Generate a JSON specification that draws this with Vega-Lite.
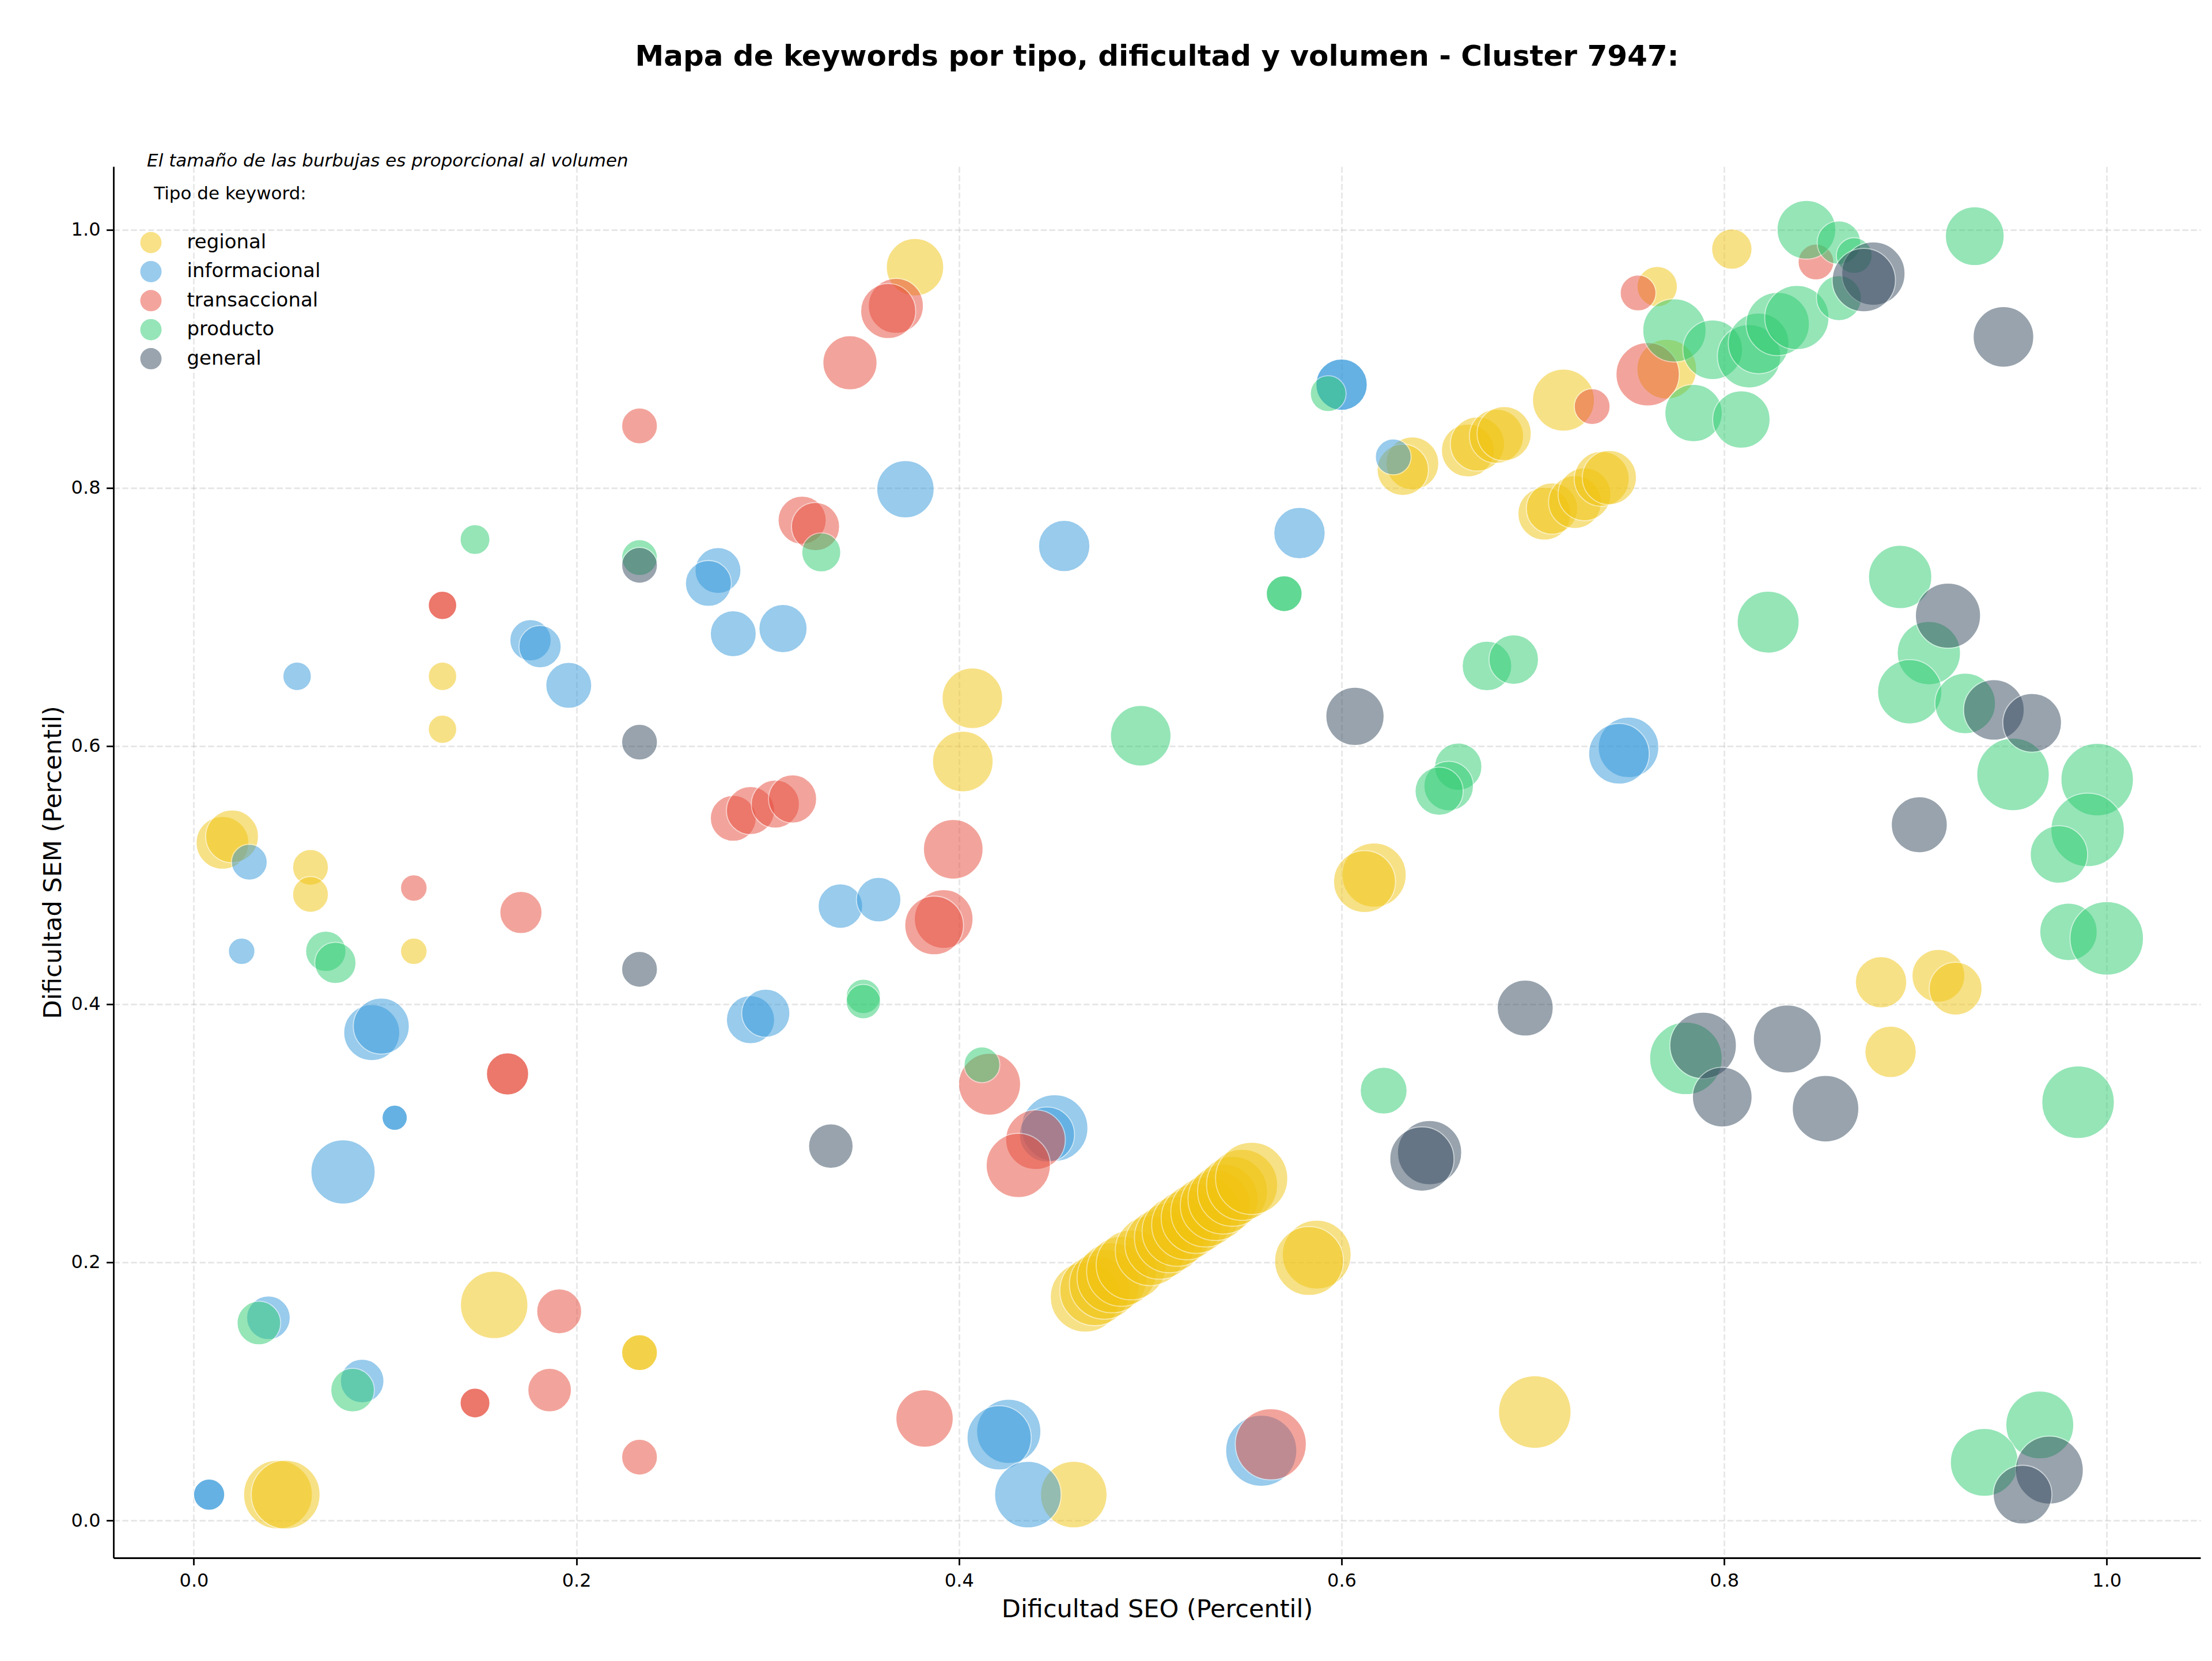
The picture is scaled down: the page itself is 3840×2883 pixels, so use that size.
{
  "$schema": "https://vega.github.io/schema/vega-lite/v6.json",
  "autosize": {"type": "none"},
  "padding": {"left": 197, "top": 289, "right": 20, "bottom": 179},
  "width": 3623,
  "height": 2415,
  "title": {
    "text": "Mapa de keywords por tipo, dificultad y volumen - Cluster 7947:",
    "fontSize": 50,
    "fontWeight": "bold",
    "font": "DejaVu Sans",
    "color": "black",
    "anchor": "middle",
    "offset": 140
  },
  "layer": [
    {
      "data": {
        "values": [
          {"tipo": "regional", "seo": 0.015, "sem": 0.525, "volumen": 513},
          {"tipo": "regional", "seo": 0.020, "sem": 0.530, "volumen": 513},
          {"tipo": "regional", "seo": 0.061, "sem": 0.506, "volumen": 236},
          {"tipo": "regional", "seo": 0.061, "sem": 0.485, "volumen": 236},
          {"tipo": "regional", "seo": 0.115, "sem": 0.441, "volumen": 130},
          {"tipo": "regional", "seo": 0.130, "sem": 0.654, "volumen": 149},
          {"tipo": "regional", "seo": 0.130, "sem": 0.613, "volumen": 149},
          {"tipo": "regional", "seo": 0.044, "sem": 0.020, "volumen": 872},
          {"tipo": "regional", "seo": 0.048, "sem": 0.020, "volumen": 872},
          {"tipo": "regional", "seo": 0.157, "sem": 0.167, "volumen": 838},
          {"tipo": "regional", "seo": 0.233, "sem": 0.130, "volumen": 236},
          {"tipo": "regional", "seo": 0.233, "sem": 0.130, "volumen": 236},
          {"tipo": "regional", "seo": 0.377, "sem": 0.971, "volumen": 606},
          {"tipo": "regional", "seo": 0.407, "sem": 0.637, "volumen": 676},
          {"tipo": "regional", "seo": 0.402, "sem": 0.588, "volumen": 676},
          {"tipo": "regional", "seo": 0.460, "sem": 0.020, "volumen": 815},
          {"tipo": "regional", "seo": 0.617, "sem": 0.500, "volumen": 760},
          {"tipo": "regional", "seo": 0.612, "sem": 0.495, "volumen": 707},
          {"tipo": "regional", "seo": 0.587, "sem": 0.206, "volumen": 872},
          {"tipo": "regional", "seo": 0.583, "sem": 0.201, "volumen": 872},
          {"tipo": "regional", "seo": 0.466, "sem": 0.173, "volumen": 900},
          {"tipo": "regional", "seo": 0.471, "sem": 0.178, "volumen": 900},
          {"tipo": "regional", "seo": 0.476, "sem": 0.183, "volumen": 900},
          {"tipo": "regional", "seo": 0.480, "sem": 0.188, "volumen": 900},
          {"tipo": "regional", "seo": 0.485, "sem": 0.193, "volumen": 900},
          {"tipo": "regional", "seo": 0.490, "sem": 0.198, "volumen": 900},
          {"tipo": "regional", "seo": 0.500, "sem": 0.209, "volumen": 900},
          {"tipo": "regional", "seo": 0.505, "sem": 0.214, "volumen": 900},
          {"tipo": "regional", "seo": 0.510, "sem": 0.219, "volumen": 900},
          {"tipo": "regional", "seo": 0.514, "sem": 0.224, "volumen": 900},
          {"tipo": "regional", "seo": 0.519, "sem": 0.229, "volumen": 900},
          {"tipo": "regional", "seo": 0.524, "sem": 0.234, "volumen": 900},
          {"tipo": "regional", "seo": 0.529, "sem": 0.239, "volumen": 900},
          {"tipo": "regional", "seo": 0.534, "sem": 0.244, "volumen": 900},
          {"tipo": "regional", "seo": 0.538, "sem": 0.249, "volumen": 900},
          {"tipo": "regional", "seo": 0.543, "sem": 0.255, "volumen": 900},
          {"tipo": "regional", "seo": 0.548, "sem": 0.260, "volumen": 930},
          {"tipo": "regional", "seo": 0.553, "sem": 0.265, "volumen": 960},
          {"tipo": "regional", "seo": 0.637, "sem": 0.819, "volumen": 513},
          {"tipo": "regional", "seo": 0.632, "sem": 0.814, "volumen": 486},
          {"tipo": "regional", "seo": 0.666, "sem": 0.829, "volumen": 513},
          {"tipo": "regional", "seo": 0.671, "sem": 0.834, "volumen": 540},
          {"tipo": "regional", "seo": 0.681, "sem": 0.840, "volumen": 540},
          {"tipo": "regional", "seo": 0.685, "sem": 0.842, "volumen": 540},
          {"tipo": "regional", "seo": 0.716, "sem": 0.868, "volumen": 707},
          {"tipo": "regional", "seo": 0.706, "sem": 0.780, "volumen": 513},
          {"tipo": "regional", "seo": 0.710, "sem": 0.784, "volumen": 486},
          {"tipo": "regional", "seo": 0.722, "sem": 0.789, "volumen": 513},
          {"tipo": "regional", "seo": 0.727, "sem": 0.795, "volumen": 513},
          {"tipo": "regional", "seo": 0.736, "sem": 0.807, "volumen": 558},
          {"tipo": "regional", "seo": 0.740, "sem": 0.808, "volumen": 540},
          {"tipo": "regional", "seo": 0.765, "sem": 0.956, "volumen": 300},
          {"tipo": "regional", "seo": 0.804, "sem": 0.985, "volumen": 300},
          {"tipo": "regional", "seo": 0.770, "sem": 0.892, "volumen": 655},
          {"tipo": "regional", "seo": 0.882, "sem": 0.417, "volumen": 486},
          {"tipo": "regional", "seo": 0.912, "sem": 0.422, "volumen": 513},
          {"tipo": "regional", "seo": 0.921, "sem": 0.412, "volumen": 513},
          {"tipo": "regional", "seo": 0.887, "sem": 0.363, "volumen": 486},
          {"tipo": "regional", "seo": 0.701, "sem": 0.084, "volumen": 968},

          {"tipo": "informacional", "seo": 0.008, "sem": 0.020, "volumen": 179},
          {"tipo": "informacional", "seo": 0.008, "sem": 0.020, "volumen": 179},
          {"tipo": "informacional", "seo": 0.029, "sem": 0.510, "volumen": 236},
          {"tipo": "informacional", "seo": 0.025, "sem": 0.441, "volumen": 130},
          {"tipo": "informacional", "seo": 0.054, "sem": 0.654, "volumen": 149},
          {"tipo": "informacional", "seo": 0.093, "sem": 0.378, "volumen": 577},
          {"tipo": "informacional", "seo": 0.098, "sem": 0.383, "volumen": 577},
          {"tipo": "informacional", "seo": 0.105, "sem": 0.312, "volumen": 117},
          {"tipo": "informacional", "seo": 0.105, "sem": 0.312, "volumen": 117},
          {"tipo": "informacional", "seo": 0.078, "sem": 0.270, "volumen": 760},
          {"tipo": "informacional", "seo": 0.039, "sem": 0.157, "volumen": 350},
          {"tipo": "informacional", "seo": 0.088, "sem": 0.108, "volumen": 350},
          {"tipo": "informacional", "seo": 0.176, "sem": 0.682, "volumen": 314},
          {"tipo": "informacional", "seo": 0.181, "sem": 0.677, "volumen": 328},
          {"tipo": "informacional", "seo": 0.196, "sem": 0.647, "volumen": 388},
          {"tipo": "informacional", "seo": 0.274, "sem": 0.736, "volumen": 388},
          {"tipo": "informacional", "seo": 0.269, "sem": 0.726, "volumen": 388},
          {"tipo": "informacional", "seo": 0.282, "sem": 0.687, "volumen": 388},
          {"tipo": "informacional", "seo": 0.308, "sem": 0.691, "volumen": 427},
          {"tipo": "informacional", "seo": 0.291, "sem": 0.388, "volumen": 427},
          {"tipo": "informacional", "seo": 0.299, "sem": 0.393, "volumen": 427},
          {"tipo": "informacional", "seo": 0.338, "sem": 0.476, "volumen": 365},
          {"tipo": "informacional", "seo": 0.358, "sem": 0.481, "volumen": 365},
          {"tipo": "informacional", "seo": 0.372, "sem": 0.799, "volumen": 606},
          {"tipo": "informacional", "seo": 0.455, "sem": 0.755, "volumen": 486},
          {"tipo": "informacional", "seo": 0.578, "sem": 0.765, "volumen": 486},
          {"tipo": "informacional", "seo": 0.600, "sem": 0.880, "volumen": 486},
          {"tipo": "informacional", "seo": 0.600, "sem": 0.880, "volumen": 486},
          {"tipo": "informacional", "seo": 0.627, "sem": 0.824, "volumen": 236},
          {"tipo": "informacional", "seo": 0.450, "sem": 0.304, "volumen": 815},
          {"tipo": "informacional", "seo": 0.446, "sem": 0.299, "volumen": 558},
          {"tipo": "informacional", "seo": 0.426, "sem": 0.069, "volumen": 760},
          {"tipo": "informacional", "seo": 0.421, "sem": 0.064, "volumen": 760},
          {"tipo": "informacional", "seo": 0.436, "sem": 0.020, "volumen": 815},
          {"tipo": "informacional", "seo": 0.558, "sem": 0.054, "volumen": 931},
          {"tipo": "informacional", "seo": 0.750, "sem": 0.599, "volumen": 676},
          {"tipo": "informacional", "seo": 0.745, "sem": 0.594, "volumen": 676},

          {"tipo": "transaccional", "seo": 0.233, "sem": 0.848, "volumen": 236},
          {"tipo": "transaccional", "seo": 0.318, "sem": 0.775, "volumen": 427},
          {"tipo": "transaccional", "seo": 0.325, "sem": 0.770, "volumen": 427},
          {"tipo": "transaccional", "seo": 0.130, "sem": 0.709, "volumen": 149},
          {"tipo": "transaccional", "seo": 0.130, "sem": 0.709, "volumen": 149},
          {"tipo": "transaccional", "seo": 0.282, "sem": 0.544, "volumen": 388},
          {"tipo": "transaccional", "seo": 0.291, "sem": 0.550, "volumen": 427},
          {"tipo": "transaccional", "seo": 0.304, "sem": 0.555, "volumen": 427},
          {"tipo": "transaccional", "seo": 0.313, "sem": 0.559, "volumen": 427},
          {"tipo": "transaccional", "seo": 0.115, "sem": 0.490, "volumen": 130},
          {"tipo": "transaccional", "seo": 0.171, "sem": 0.471, "volumen": 328},
          {"tipo": "transaccional", "seo": 0.164, "sem": 0.346, "volumen": 328},
          {"tipo": "transaccional", "seo": 0.164, "sem": 0.346, "volumen": 328},
          {"tipo": "transaccional", "seo": 0.191, "sem": 0.162, "volumen": 372},
          {"tipo": "transaccional", "seo": 0.147, "sem": 0.091, "volumen": 164},
          {"tipo": "transaccional", "seo": 0.147, "sem": 0.091, "volumen": 164},
          {"tipo": "transaccional", "seo": 0.186, "sem": 0.101, "volumen": 350},
          {"tipo": "transaccional", "seo": 0.233, "sem": 0.049, "volumen": 236},
          {"tipo": "transaccional", "seo": 0.367, "sem": 0.941, "volumen": 558},
          {"tipo": "transaccional", "seo": 0.363, "sem": 0.937, "volumen": 558},
          {"tipo": "transaccional", "seo": 0.343, "sem": 0.897, "volumen": 540},
          {"tipo": "transaccional", "seo": 0.397, "sem": 0.520, "volumen": 655},
          {"tipo": "transaccional", "seo": 0.392, "sem": 0.466, "volumen": 635},
          {"tipo": "transaccional", "seo": 0.387, "sem": 0.461, "volumen": 635},
          {"tipo": "transaccional", "seo": 0.416, "sem": 0.338, "volumen": 707},
          {"tipo": "transaccional", "seo": 0.440, "sem": 0.295, "volumen": 655},
          {"tipo": "transaccional", "seo": 0.431, "sem": 0.275, "volumen": 760},
          {"tipo": "transaccional", "seo": 0.382, "sem": 0.079, "volumen": 606},
          {"tipo": "transaccional", "seo": 0.563, "sem": 0.059, "volumen": 931},
          {"tipo": "transaccional", "seo": 0.731, "sem": 0.863, "volumen": 236},
          {"tipo": "transaccional", "seo": 0.755, "sem": 0.951, "volumen": 236},
          {"tipo": "transaccional", "seo": 0.760, "sem": 0.888, "volumen": 738},
          {"tipo": "transaccional", "seo": 0.848, "sem": 0.975, "volumen": 236},

          {"tipo": "producto", "seo": 0.147, "sem": 0.760, "volumen": 164},
          {"tipo": "producto", "seo": 0.233, "sem": 0.746, "volumen": 236},
          {"tipo": "producto", "seo": 0.328, "sem": 0.750, "volumen": 280},
          {"tipo": "producto", "seo": 0.069, "sem": 0.441, "volumen": 300},
          {"tipo": "producto", "seo": 0.074, "sem": 0.432, "volumen": 314},
          {"tipo": "producto", "seo": 0.034, "sem": 0.153, "volumen": 350},
          {"tipo": "producto", "seo": 0.083, "sem": 0.101, "volumen": 350},
          {"tipo": "producto", "seo": 0.350, "sem": 0.406, "volumen": 218},
          {"tipo": "producto", "seo": 0.350, "sem": 0.402, "volumen": 218},
          {"tipo": "producto", "seo": 0.412, "sem": 0.353, "volumen": 236},
          {"tipo": "producto", "seo": 0.593, "sem": 0.873, "volumen": 236},
          {"tipo": "producto", "seo": 0.570, "sem": 0.718, "volumen": 236},
          {"tipo": "producto", "seo": 0.570, "sem": 0.718, "volumen": 236},
          {"tipo": "producto", "seo": 0.495, "sem": 0.608, "volumen": 676},
          {"tipo": "producto", "seo": 0.622, "sem": 0.333, "volumen": 404},
          {"tipo": "producto", "seo": 0.661, "sem": 0.584, "volumen": 411},
          {"tipo": "producto", "seo": 0.656, "sem": 0.569, "volumen": 452},
          {"tipo": "producto", "seo": 0.651, "sem": 0.565, "volumen": 427},
          {"tipo": "producto", "seo": 0.676, "sem": 0.662, "volumen": 452},
          {"tipo": "producto", "seo": 0.690, "sem": 0.667, "volumen": 452},
          {"tipo": "producto", "seo": 0.774, "sem": 0.922, "volumen": 738},
          {"tipo": "producto", "seo": 0.794, "sem": 0.907, "volumen": 655},
          {"tipo": "producto", "seo": 0.784, "sem": 0.858, "volumen": 606},
          {"tipo": "producto", "seo": 0.809, "sem": 0.853, "volumen": 606},
          {"tipo": "producto", "seo": 0.813, "sem": 0.902, "volumen": 738},
          {"tipo": "producto", "seo": 0.818, "sem": 0.912, "volumen": 676},
          {"tipo": "producto", "seo": 0.828, "sem": 0.927, "volumen": 738},
          {"tipo": "producto", "seo": 0.838, "sem": 0.932, "volumen": 760},
          {"tipo": "producto", "seo": 0.860, "sem": 0.947, "volumen": 372},
          {"tipo": "producto", "seo": 0.843, "sem": 1.000, "volumen": 635},
          {"tipo": "producto", "seo": 0.860, "sem": 0.990, "volumen": 350},
          {"tipo": "producto", "seo": 0.868, "sem": 0.980, "volumen": 236},
          {"tipo": "producto", "seo": 0.931, "sem": 0.995, "volumen": 635},
          {"tipo": "producto", "seo": 0.892, "sem": 0.731, "volumen": 738},
          {"tipo": "producto", "seo": 0.907, "sem": 0.672, "volumen": 738},
          {"tipo": "producto", "seo": 0.897, "sem": 0.642, "volumen": 760},
          {"tipo": "producto", "seo": 0.926, "sem": 0.633, "volumen": 676},
          {"tipo": "producto", "seo": 0.951, "sem": 0.578, "volumen": 968},
          {"tipo": "producto", "seo": 0.995, "sem": 0.574, "volumen": 968},
          {"tipo": "producto", "seo": 0.990, "sem": 0.535, "volumen": 993},
          {"tipo": "producto", "seo": 0.975, "sem": 0.516, "volumen": 606},
          {"tipo": "producto", "seo": 0.823, "sem": 0.696, "volumen": 707},
          {"tipo": "producto", "seo": 0.980, "sem": 0.456, "volumen": 606},
          {"tipo": "producto", "seo": 1.000, "sem": 0.451, "volumen": 993},
          {"tipo": "producto", "seo": 0.985, "sem": 0.324, "volumen": 968},
          {"tipo": "producto", "seo": 0.780, "sem": 0.358, "volumen": 968},
          {"tipo": "producto", "seo": 0.965, "sem": 0.074, "volumen": 849},
          {"tipo": "producto", "seo": 0.936, "sem": 0.045, "volumen": 849},

          {"tipo": "general", "seo": 0.233, "sem": 0.740, "volumen": 236},
          {"tipo": "general", "seo": 0.233, "sem": 0.603, "volumen": 236},
          {"tipo": "general", "seo": 0.233, "sem": 0.427, "volumen": 236},
          {"tipo": "general", "seo": 0.333, "sem": 0.290, "volumen": 365},
          {"tipo": "general", "seo": 0.607, "sem": 0.623, "volumen": 625},
          {"tipo": "general", "seo": 0.646, "sem": 0.285, "volumen": 760},
          {"tipo": "general", "seo": 0.642, "sem": 0.280, "volumen": 760},
          {"tipo": "general", "seo": 0.696, "sem": 0.397, "volumen": 577},
          {"tipo": "general", "seo": 0.878, "sem": 0.966, "volumen": 738},
          {"tipo": "general", "seo": 0.873, "sem": 0.961, "volumen": 738},
          {"tipo": "general", "seo": 0.946, "sem": 0.917, "volumen": 676},
          {"tipo": "general", "seo": 0.917, "sem": 0.701, "volumen": 782},
          {"tipo": "general", "seo": 0.941, "sem": 0.628, "volumen": 676},
          {"tipo": "general", "seo": 0.961, "sem": 0.618, "volumen": 635},
          {"tipo": "general", "seo": 0.902, "sem": 0.539, "volumen": 577},
          {"tipo": "general", "seo": 0.789, "sem": 0.368, "volumen": 815},
          {"tipo": "general", "seo": 0.799, "sem": 0.328, "volumen": 655},
          {"tipo": "general", "seo": 0.833, "sem": 0.373, "volumen": 849},
          {"tipo": "general", "seo": 0.853, "sem": 0.319, "volumen": 815},
          {"tipo": "general", "seo": 0.970, "sem": 0.039, "volumen": 849},
          {"tipo": "general", "seo": 0.956, "sem": 0.020, "volumen": 635}
        ]
      },
      "mark": {"type": "circle", "opacity": 0.5, "stroke": "white", "strokeWidth": 1.8},
      "encoding": {
        "x": {
          "field": "seo",
          "type": "quantitative",
          "title": "Dificultad SEO (Percentil)",
          "scale": {"domain": [-0.042, 1.049], "nice": false, "zero": false},
          "axis": {"values": [0, 0.2, 0.4, 0.6, 0.8, 1.0], "format": ".1f", "labelPadding": 12, "titlePadding": 13}
        },
        "y": {
          "field": "sem",
          "type": "quantitative",
          "title": "Dificultad SEM (Percentil)",
          "scale": {"domain": [-0.029, 1.049], "nice": false, "zero": false},
          "axis": {"values": [0, 0.2, 0.4, 0.6, 0.8, 1.0], "format": ".1f", "labelPadding": 10.6, "titlePadding": 9}
        },
        "color": {
          "field": "tipo",
          "type": "nominal",
          "scale": {
            "domain": ["regional", "informacional", "transaccional", "producto", "general"],
            "range": ["#F1C40F", "#3498DB", "#E74C3C", "#2ECC71", "#34495E"]
          },
          "legend": {
            "title": "Tipo de keyword:",
            "orient": "none",
            "legendX": 46.5,
            "legendY": 33,
            "padding": 0,
            "titleFont": "DejaVu Sans",
            "titleFontSize": 31,
            "titleFontWeight": "normal",
            "titleColor": "black",
            "titleAnchor": "middle",
            "titlePadding": 49.5,
            "titleLimit": 2000,
            "labelFont": "DejaVu Sans",
            "labelFontSize": 34,
            "labelColor": "black",
            "labelOffset": 44,
            "labelLimit": 2000,
            "symbolType": "circle",
            "symbolSize": 1369,
            "symbolOpacity": 0.5,
            "symbolStrokeWidth": 0,
            "rowPadding": 13.4
          }
        },
        "size": {
          "field": "volumen",
          "type": "quantitative",
          "scale": {"domain": [0, 1000], "range": [0, 16384]},
          "legend": null
        }
      }
    },
    {
      "data": {"values": [{"nota": "El tamaño de las burbujas es proporcional al volumen"}]},
      "mark": {
        "type": "text",
        "align": "left",
        "baseline": "middle",
        "font": "DejaVu Sans",
        "fontStyle": "italic",
        "fontSize": 31,
        "color": "black"
      },
      "encoding": {
        "x": {"datum": -0.0245, "type": "quantitative"},
        "y": {"datum": 1.0532, "type": "quantitative"},
        "text": {"field": "nota", "type": "nominal"}
      }
    }
  ],
  "config": {
    "font": "DejaVu Sans",
    "view": {"stroke": null},
    "axis": {
      "grid": true,
      "gridColor": "#b0b0b0",
      "gridOpacity": 0.3,
      "gridDash": [10.4, 4.5],
      "gridWidth": 2.8,
      "domainColor": "black",
      "domainWidth": 2.8,
      "tickColor": "black",
      "tickWidth": 2.8,
      "tickSize": 12.4,
      "labelFont": "DejaVu Sans",
      "labelFontSize": 32,
      "labelColor": "black",
      "titleFont": "DejaVu Sans",
      "titleFontSize": 43,
      "titleFontWeight": "normal",
      "titleColor": "black"
    }
  }
}
